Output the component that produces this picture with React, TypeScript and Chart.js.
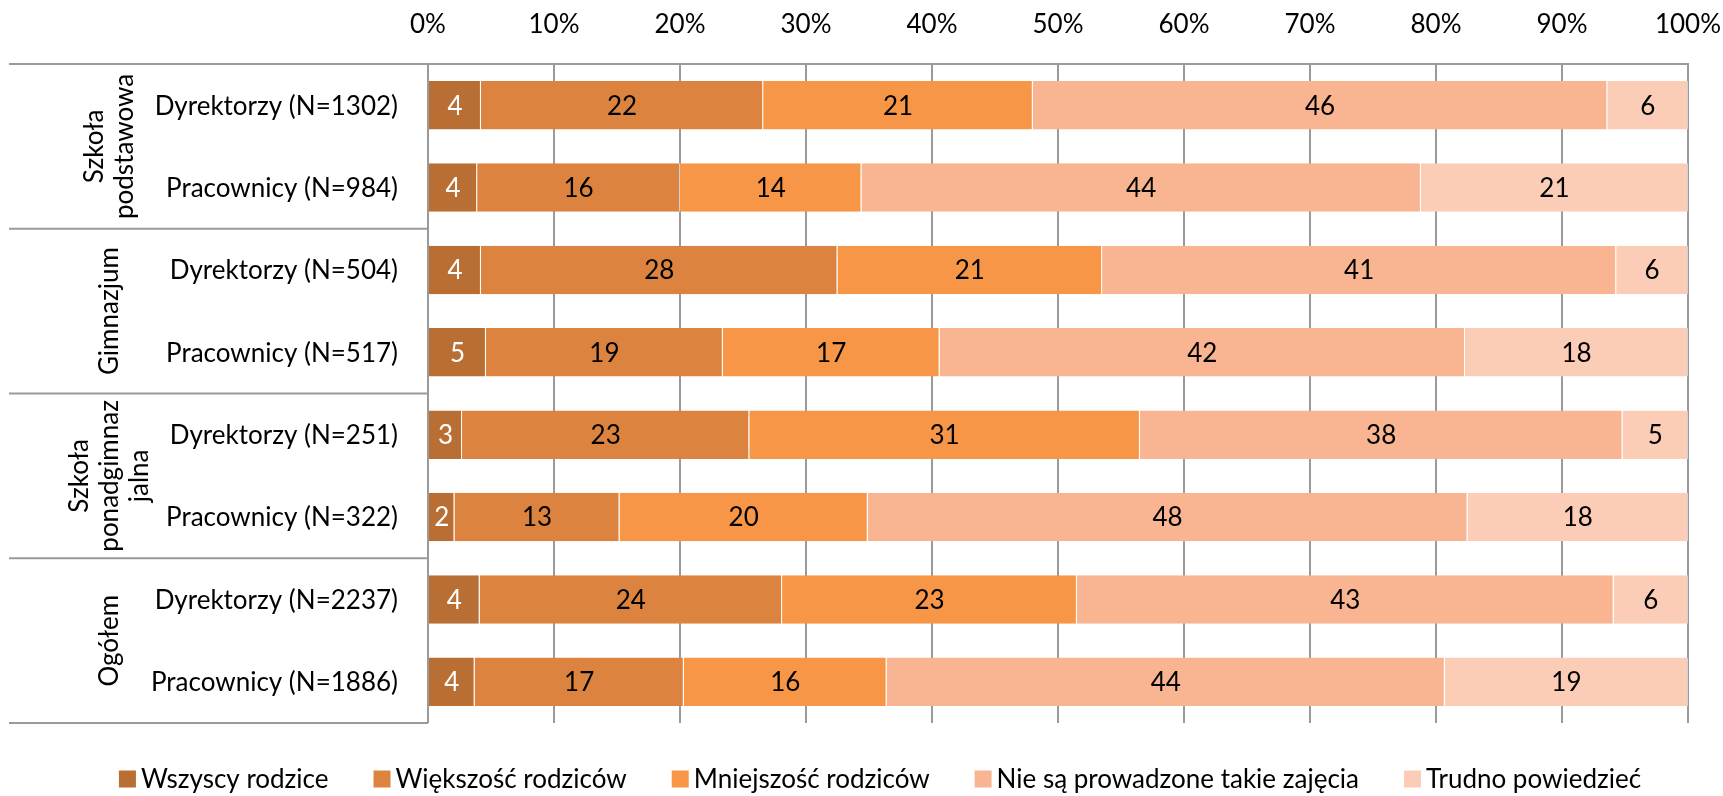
import React, { useEffect, useRef } from 'react';
import { Chart, registerables } from 'chart.js';

Chart.register(...registerables);

const categories = [
  'Dyrektorzy (N=1302)',
  'Pracownicy (N=984)',
  'Dyrektorzy (N=504)',
  'Pracownicy (N=517)',
  'Dyrektorzy (N=251)',
  'Pracownicy (N=322)',
  'Dyrektorzy (N=2237)',
  'Pracownicy (N=1886)',
];
const groupLabels = [['Szkoła', 'podstawowa'], ['Gimnazjum'], ['Szkoła', 'ponadgimnaz', 'jalna'], ['Ogółem']];
const groupSizes = [2, 2, 2, 2];
const seriesNames = ['Wszyscy rodzice', 'Większość rodziców', 'Mniejszość rodziców', 'Nie są prowadzone takie zajęcia', 'Trudno powiedzieć'];
const wszyscy = [4.2, 3.9, 4.2, 4.6, 2.7, 2.1, 4.1, 3.7];
const wiekszosc = [22.4, 16.1, 28.3, 18.8, 22.8, 13.1, 24.0, 16.6];
const mniejszosc = [21.4, 14.4, 21.0, 17.2, 31.0, 19.7, 23.4, 16.1];
const nieProwadzone = [45.6, 44.4, 40.8, 41.7, 38.3, 47.6, 42.6, 44.3];
const trudno = [6.4, 21.2, 5.7, 17.7, 5.2, 17.5, 5.9, 19.3];
const tickLabels = ['0%', '10%', '20%', '30%', '40%', '50%', '60%', '70%', '80%', '90%', '100%'];
const seriesColors = ['#B96F34', '#DC843F', '#F79647', '#F9B591', '#FBCDB6'];
const labelColors = ['#FFFFFF', '#000000', '#000000', '#000000', '#000000'];

const FONT = 'Lato, "Open Sans", sans-serif';
const FS = 26;
const GRID = '#9A9A9A';

export default function App() {
  const ref = useRef<HTMLCanvasElement | null>(null);
  useEffect(() => {
    if (!ref.current) return;
    const values = [wszyscy, wiekszosc, mniejszosc, nieProwadzone, trudno];

    const barLabels = {
      id: 'barLabels',
      afterDatasetsDraw(chart: any) {
        const ctx = chart.ctx;
        ctx.save();
        ctx.font = `${FS}px ${FONT}`;
        ctx.textAlign = 'center';
        ctx.textBaseline = 'middle';
        chart.data.datasets.forEach((ds: any, di: number) => {
          const meta = chart.getDatasetMeta(di);
          meta.data.forEach((bar: any, i: number) => {
            const v = ds.data[i];
            ctx.fillStyle = labelColors[di];
            ctx.fillText(String(Math.round(v)), (bar.x + bar.base) / 2, bar.y + 1);
          });
        });
        ctx.restore();
      },
    };

    const leftAxis = {
      id: 'leftAxis',
      afterDraw(chart: any) {
        const ctx = chart.ctx;
        const y = chart.scales.y;
        const area = chart.chartArea;
        ctx.save();
        ctx.font = `${FS}px ${FONT}`;
        ctx.fillStyle = '#000';
        ctx.textAlign = 'right';
        ctx.textBaseline = 'middle';
        categories.forEach((c, i) => {
          ctx.fillText(c, area.left - 30, y.getPixelForValue(i) + 1);
        });
        ctx.strokeStyle = GRID;
        ctx.lineWidth = 2;
        let idx = 0;
        const bounds: number[] = [area.top];
        groupSizes.forEach((n) => {
          idx += n;
          if (idx < categories.length) {
            bounds.push((y.getPixelForValue(idx - 1) + y.getPixelForValue(idx)) / 2);
          }
        });
        bounds.push(area.bottom);
        bounds.forEach((b) => {
          ctx.beginPath();
          ctx.moveTo(9, b);
          ctx.lineTo(area.left, b);
          ctx.stroke();
        });
        const lh = 30;
        groupLabels.forEach((lines, g) => {
          const cy = (bounds[g] + bounds[g + 1]) / 2;
          const cx = 110;
          ctx.save();
          ctx.translate(cx, cy);
          ctx.rotate(-Math.PI / 2);
          ctx.textAlign = 'center';
          ctx.textBaseline = 'middle';
          lines.forEach((t, li) => {
            const off = (li - (lines.length - 1) / 2) * lh;
            ctx.fillText(t, 0, off);
          });
          ctx.restore();
        });

        // legend
        ctx.font = `${FS}px ${FONT}`;
        ctx.textAlign = 'left';
        ctx.textBaseline = 'middle';
        const box = 17;
        const gap = 5;
        const spacing = 45;
        const widths = seriesNames.map((n) => box + gap + ctx.measureText(n).width);
        const total = widths.reduce((a, b) => a + b, 0) + spacing * (widths.length - 1);
        let x = 880 - total / 2;
        const ly = 779;
        seriesNames.forEach((n, i) => {
          ctx.fillStyle = seriesColors[i];
          ctx.fillRect(x, ly - box / 2, box, box);
          ctx.fillStyle = '#000';
          ctx.fillText(n, x + box + gap, ly + 1);
          x += widths[i] + spacing;
        });
        ctx.restore();
      },
    };

    const chart = new Chart(ref.current, {
      type: 'bar',
      data: {
        labels: categories,
        datasets: values.map((d, i) => ({
          label: seriesNames[i],
          data: d,
          backgroundColor: seriesColors[i],
          borderColor: 'rgba(255,255,255,0.55)',
          borderWidth: { right: 1, left: 0, top: 0, bottom: 0 },
          borderSkipped: false,
          barPercentage: 1,
          categoryPercentage: 0.59,
        })),
      },
      options: {
        indexAxis: 'y',
        animation: false,
        responsive: true,
        maintainAspectRatio: false,
        layout: { padding: { left: 428, right: 35, top: 0, bottom: 73 } },
        scales: {
          x: {
            position: 'top',
            stacked: true,
            min: 0,
            max: 100,
            afterFit: (s: any) => {
              s.height = 64;
              s.paddingLeft = 0;
              s.paddingRight = 0;
            },
            ticks: {
              stepSize: 10,
              padding: 24,
              color: '#000',
              font: { family: FONT, size: FS },
              callback: (_v: any, i: number) => tickLabels[i],
            },
            grid: { color: GRID, lineWidth: 2, drawTicks: false },
            border: { display: true, color: GRID, width: 2 },
          },
          y: {
            stacked: true,
            display: false,
          },
        },
        plugins: {
          legend: { display: false },
          tooltip: { enabled: false },
        },
      },
      plugins: [barLabels, leftAxis],
    });
    return () => chart.destroy();
  }, []);

  return (
    <div style={{ position: 'fixed', left: 0, top: 0, width: 1723, height: 796, background: '#fff' }}>
      <canvas ref={ref} />
    </div>
  );
}
